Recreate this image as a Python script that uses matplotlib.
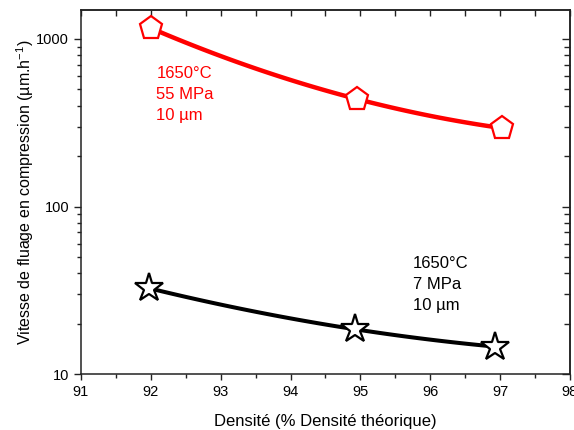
import numpy as np
import matplotlib.pyplot as plt
from matplotlib.ticker import LogLocator, NullFormatter, FixedLocator

plt.rcParams['font.family'] = ['Liberation Sans', 'DejaVu Sans']

# data
density_55 = [92.0, 94.95, 97.02]
rate_55 = [1160, 438, 294]
density_7 = [91.98, 94.93, 96.92]
rate_7 = [32.5, 18.5, 14.6]

label_55 = '1650°C\n55 MPa\n10 µm'
label_7 = '1650°C\n7 MPa\n10 µm'


def smooth(x, y, n=100):
    # quadratic through the points in log space, like the spline connection
    x = np.array(x)
    ly = np.log10(np.array(y))
    coef = np.polyfit(x, ly, len(x) - 1)
    xs = np.linspace(x[0], x[-1], n)
    return xs, 10 ** np.polyval(coef, xs)


fig = plt.figure(figsize=(5.74, 4.30), dpi=100)
ax = fig.add_axes([0.141, 0.130, 0.852, 0.847])

xs, ys = smooth(density_55, rate_55)
ax.plot(xs, ys, color='#ff0000', lw=3.2, solid_capstyle='butt', zorder=2)
ax.plot(density_55, rate_55, ls='none', marker='p', ms=17, mfc='white',
        mec='#ff0000', mew=1.6, zorder=3)

xs, ys = smooth(density_7, rate_7)
ax.plot(xs, ys, color='black', lw=2.9, solid_capstyle='butt', zorder=2)
ax.plot(density_7, rate_7, ls='none', marker='*', ms=21, mfc='white',
        mec='black', mew=1.6, zorder=3)

ax.text(92.08, 690, label_55, color='#ff0000', fontsize=12, va='top',
        ha='left', linespacing=1.5)
ax.text(95.75, 51, label_7, color='black', fontsize=12, va='top',
        ha='left', linespacing=1.5)

ax.set_yscale('log')
ax.set_xlim(91, 98)
ax.set_ylim(10, 1490)
ax.set_xticks(np.arange(91, 99, 1))
ax.set_xticks(np.arange(91.5, 98, 1), minor=True)
ax.yaxis.set_major_locator(FixedLocator([10, 100, 1000]))
ax.yaxis.set_minor_locator(LogLocator(base=10, subs=np.arange(2, 10)))
ax.yaxis.set_minor_formatter(NullFormatter())
ax.set_yticklabels(['10', '100', '1000'])

ax.tick_params(which='major', direction='out', length=5, width=1,
               labelsize=10.5, colors='#222222', labelcolor='black')
ax.tick_params(which='minor', direction='out', length=3, width=1,
               colors='#222222')
ax.tick_params(axis='x', which='both', length=4)
ax.tick_params(axis='x', which='minor', length=3)

for s in ax.spines.values():
    s.set_linewidth(1.1)
    s.set_color('#222222')

# mirrored ticks pointing inward on top and right
top = ax.secondary_xaxis('top')
top.set_xticks(np.arange(91, 98.01, 0.5))
top.tick_params(direction='in', length=4, width=1, labeltop=False,
                colors='#222222')
right = ax.secondary_yaxis('right')
right.set_yscale('log')
right.yaxis.set_major_locator(FixedLocator([10, 100, 1000]))
right.yaxis.set_minor_locator(LogLocator(base=10, subs=np.arange(2, 10)))
right.tick_params(which='major', direction='in', length=6, width=1,
                  labelright=False, colors='#222222')
right.tick_params(which='minor', direction='in', length=4, width=1,
                  labelright=False, colors='#222222')
for s in list(top.spines.values()) + list(right.spines.values()):
    s.set_linewidth(1.1)
    s.set_color('#222222')

ax.set_xlabel('Densité (% Densité théorique)', fontsize=12, labelpad=11)
ax.set_ylabel('Vitesse de fluage en compression (µm.h$^{\\mathregular{-1}}$)',
              fontsize=11.5, labelpad=0)

fig.savefig('out.png', dpi=100)
